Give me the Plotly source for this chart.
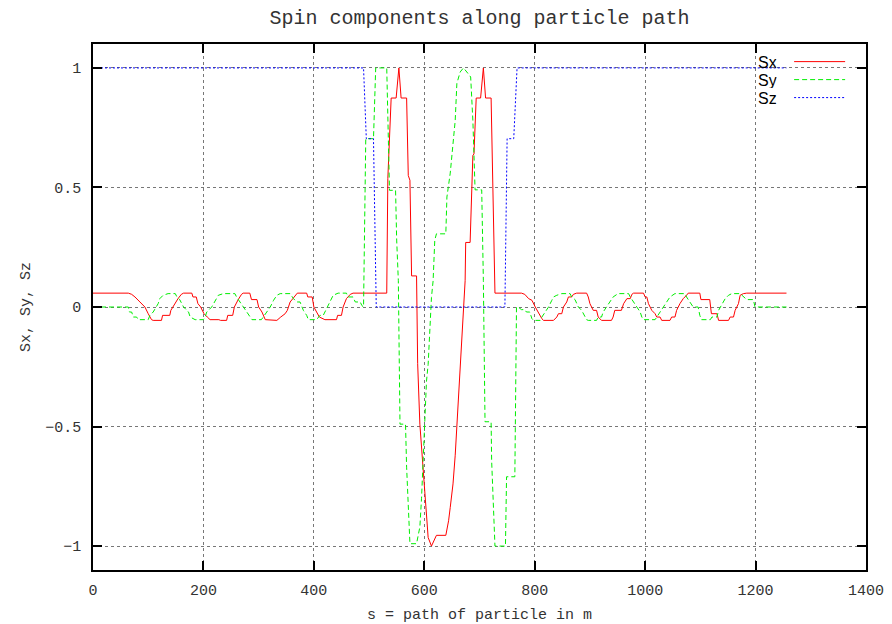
import plotly.graph_objects as go

# ---- data ----
s_x = [0, 64, 70, 76, 85, 94, 100, 106, 109, 124,
       126, 139, 141, 148, 154, 160, 164, 179, 181, 187,
       190, 195, 201, 207, 212, 228, 231, 242, 244, 253,
       256, 263, 269, 272, 284, 287, 297, 300, 306, 312,
       331, 333, 340, 348, 352, 357, 362, 367, 370, 387,
       389, 397, 400, 405, 410, 420, 441, 443, 450, 453,
       459, 466, 471,
       532, 534, 540, 549, 554, 558, 568, 571, 574, 577,
       586, 588, 592, 598, 601, 604, 607, 613, 622, 639,
       644, 647, 652, 656, 659, 662, 665, 671, 674, 675,
       683, 688, 690, 694, 702, 707, 711, 721, 724, 728,
       776, 782, 789, 795, 801, 807, 813, 816, 834, 840,
       843, 849, 852, 858, 861, 867, 870, 876, 894, 897,
       900, 906, 912, 915, 921, 939, 942, 945, 957, 961,
       967, 973, 976, 979, 997, 1000, 1003, 1006, 1012, 1018,
       1021, 1027, 1030, 1045, 1048, 1054, 1057, 1063, 1069, 1075,
       1078, 1099, 1101, 1117, 1120, 1130, 1133, 1151, 1154, 1160,
       1163, 1169, 1172, 1178, 1184, 1256]
sx = [0.058, 0.058, 0.053, 0.042, 0.021, 0.0, -0.028, -0.053, -0.056, -0.056,
      -0.035, -0.035, -0.014, 0.014, 0.035, 0.053, 0.058, 0.058, 0.042, 0.042,
      0.014, 0.0, -0.028, -0.042, -0.053, -0.053, -0.056, -0.056, -0.035, -0.035,
      0.0, 0.031, 0.053, 0.058, 0.058, 0.031, 0.031, 0.0, -0.021, -0.053,
      -0.053, -0.056, -0.042, -0.028, -0.014, 0.021, 0.035, 0.053, 0.058, 0.058,
      0.042, 0.042, 0.0, -0.021, -0.042, -0.053, -0.053, -0.035, -0.035, 0.0,
      0.035, 0.053, 0.058,
      0.058, 0.538, 0.874, 0.874, 1.0, 0.874, 0.874, 0.55, 0.53, 0.13,
      0.13, -0.237, -0.49, -0.67, -0.78, -0.89, -0.964, -1.0, -0.955, -0.955,
      -0.894, -0.838, -0.74, -0.62, -0.50, -0.378, -0.21, -0.015, 0.11, 0.27,
      0.27, 0.634, 0.64, 0.874, 0.874, 1.0, 0.874, 0.874, 0.538, 0.058,
      0.058, 0.053, 0.035, 0.028, 0.0, -0.028, -0.049, -0.056, -0.056, -0.042,
      -0.028, -0.028, 0.0, 0.021, 0.042, 0.042, 0.053, 0.058, 0.058, 0.042,
      0.014, -0.014, -0.014, -0.042, -0.056, -0.056, -0.042, -0.014, -0.014, 0.014,
      0.035, 0.035, 0.053, 0.058, 0.058, 0.042, 0.042, 0.014, -0.014, -0.028,
      -0.042, -0.042, -0.056, -0.056, -0.042, -0.042, -0.014, 0.014, 0.035, 0.049,
      0.058, 0.058, 0.031, 0.031, -0.028, -0.028, -0.056, -0.056, -0.042, -0.042,
      -0.014, 0.014, 0.049, 0.056, 0.058, 0.058]

s_y = [0, 64, 66, 70, 73, 79, 82, 100, 103, 109,
       118, 121, 127, 136, 149, 152, 157, 164, 173, 176,
       185, 200, 203, 206, 215, 221, 227, 236, 257, 260,
       266, 272, 278, 284, 288, 305, 308, 314, 321, 327,
       333, 339, 357, 363, 369, 375, 381, 387, 390, 405,
       411, 417, 423, 429, 435, 444, 459, 462, 471, 475,
       484, 487, 490,
       494, 508, 512, 532, 537, 548, 550, 553, 556, 566,
       568, 571, 574, 586, 592, 595, 601, 604, 607, 610,
       613, 616, 619, 622, 639, 641, 647, 656, 659, 665,
       671, 677, 684, 688, 692, 704, 707, 710, 721, 722,
       725, 728, 747, 749, 764, 767,
       770, 776, 782, 785, 791, 795, 798, 810, 813, 819,
       825, 831, 834, 840, 849, 864, 867, 873, 879, 885,
       891, 894, 897, 912, 915, 921, 924, 930, 936, 942,
       951, 970, 973, 979, 985, 991, 994, 997, 1018, 1021,
       1027, 1033, 1039, 1045, 1054, 1072, 1075, 1084, 1087, 1096,
       1099, 1102, 1118, 1121, 1130, 1133, 1139, 1145, 1151, 1157,
       1172, 1178, 1184, 1196, 1199, 1256]
sy = [0.0, 0.0, -0.021, -0.021, -0.042, -0.042, -0.053, -0.053, -0.035, -0.021,
      0.014, 0.035, 0.049, 0.056, 0.056, 0.042, 0.031, 0.0, -0.021, -0.042,
      -0.053, -0.053, -0.042, -0.021, 0.0, 0.028, 0.049, 0.056, 0.056, 0.042,
      0.021, 0.0, -0.021, -0.042, -0.053, -0.053, -0.042, -0.021, 0.0, 0.028,
      0.049, 0.056, 0.056, 0.035, 0.021, 0.021, -0.014, -0.035, -0.053, -0.053,
      -0.035, -0.035, -0.007, 0.028, 0.049, 0.058, 0.058, 0.042, 0.042, 0.021,
      0.021, 0.006, 0.0,
      0.704, 0.704, 1.0, 1.0, 0.488, 0.488, 0.28, 0.11, -0.49, -0.49,
      -0.67, -0.84, -0.99, -0.99, -0.92, -0.80, -0.49, -0.31, -0.24, -0.085,
      0.04, 0.11, 0.28, 0.306, 0.306, 0.46, 0.56, 0.78, 0.935, 0.983,
      1.0, 0.983, 0.962, 0.78, 0.49, 0.49, 0.11, -0.48, -0.48, -0.643,
      -0.81, -1.0, -1.0, -0.71, -0.71, 0.0,
      0.0, -0.011, -0.011, -0.021, -0.021, -0.049, -0.056, -0.056, -0.042, -0.021,
      0.0, 0.028, 0.042, 0.049, 0.056, 0.056, 0.042, 0.031, 0.0, -0.014,
      -0.042, -0.053, -0.056, -0.056, -0.042, -0.042, -0.021, 0.0, 0.021, 0.042,
      0.056, 0.056, 0.042, 0.021, 0.0, -0.021, -0.042, -0.053, -0.053, -0.042,
      -0.021, 0.0, 0.021, 0.042, 0.056, 0.056, 0.042, 0.014, 0.0, 0.0,
      -0.035, -0.053, -0.053, -0.042, -0.042, -0.014, 0.014, 0.035, 0.049, 0.056,
      0.056, 0.042, 0.031, 0.031, 0.0, 0.0]

s_z = [0, 490, 495, 508, 513, 746, 750, 762, 768, 1256]
sz = [1.0, 1.0, 0.704, 0.704, 0.0, 0.0, 0.704, 0.704, 1.0, 1.0]

series_names = ["Sx", "Sy", "Sz"]
x_ticks = [0, 200, 400, 600, 800, 1000, 1200, 1400]
y_ticks = [-1, -0.5, 0, 0.5, 1]

# ---- styling ----
colors = ["#ff0000", "#00ee00", "#0000ff"]
dashes = ["solid", "5px,3px", "2px,2px"]
mono = "Liberation Mono"
txt = "#333333"

fig = go.Figure()
for xs, ys, name, c, d in zip([s_x, s_y, s_z], [sx, sy, sz], series_names, colors, dashes):
    fig.add_trace(go.Scatter(x=xs, y=ys, mode="lines", name=name,
                             line=dict(color=c, width=1, dash=d)))

# gnuplot-style key: label left, sample right
key_y = [0.9665, 0.9323, 0.8981]
for name, c, d, ky in zip(series_names, colors, dashes, key_y):
    fig.add_annotation(xref="paper", yref="paper", x=0.886, y=ky, text=name,
                       showarrow=False, xanchor="right", yanchor="middle",
                       height=16, borderpad=0,
                       font=dict(family="Liberation Sans", size=16, color="black"))
    fig.add_shape(type="line", xref="paper", yref="paper",
                  x0=0.907, x1=0.973, y0=ky, y1=ky,
                  line=dict(color=c, width=1, dash=d))

axis_common = dict(showline=True, linecolor="black", linewidth=1.5, mirror="ticks",
                   ticks="inside", ticklen=9, tickcolor="black", tickwidth=1.5,
                   showgrid=True, gridcolor="#777777", griddash="dot", gridwidth=1,
                   zeroline=False, automargin=False,
                   tickfont=dict(family=mono, size=15, color=txt))

fig.update_layout(
    width=892, height=624,
    margin=dict(l=93, r=26, t=44, b=54),
    plot_bgcolor="white", paper_bgcolor="white",
    showlegend=False,
    title=dict(text="Spin components along particle path", x=0.5, xref="paper",
               y=0.973, yref="container", yanchor="middle", xanchor="center",
               font=dict(family=mono, size=20, color=txt)),
    xaxis=dict(range=[0, 1400], tickvals=x_ticks, ticklabelstandoff=5,
               title=dict(text="s = path of particle in m", standoff=17,
                          font=dict(family=mono, size=15, color=txt)),
               **axis_common),
    yaxis=dict(range=[-1.1, 1.1], tickvals=y_ticks, ticklabelstandoff=7,
               title=dict(text="Sx, Sy, Sz", standoff=11,
                          font=dict(family=mono, size=15, color=txt)),
               **axis_common),
)

fig.write_html("out.html", config={"displayModeBar": False},
               post_script="document.body.style.margin='0';")
